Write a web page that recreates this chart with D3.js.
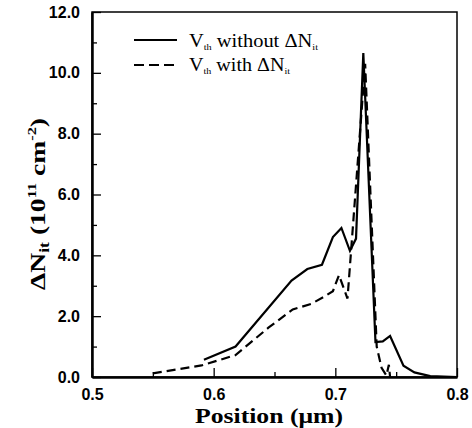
<!DOCTYPE html>
<html>
<head>
<meta charset="utf-8">
<script src="https://cdn.jsdelivr.net/npm/d3@7"></script>
<style>
  body { margin: 0; background: #fff; }
  .serif { font-family: "Liberation Serif", "Times New Roman", serif; fill: #000; }
</style>
</head>
<body>
<div id="chart"></div>
<script>
// Data
var xTicks = [0.5, 0.6, 0.7, 0.8];
var xMinor = [0.55, 0.65, 0.75];
var yTicks = [0, 2, 4, 6, 8, 10, 12];
var yMinor = [1, 3, 5, 7, 9, 11];

// Vth without dNit (solid)
var solidX = [0.592, 0.618, 0.664, 0.677, 0.689, 0.698, 0.705, 0.712, 0.717, 0.723, 0.733, 0.739, 0.745, 0.756, 0.765, 0.778, 0.800];
var solidY = [0.57, 1.00, 3.17, 3.55, 3.69, 4.60, 4.90, 4.15, 4.55, 10.65, 1.15, 1.17, 1.35, 0.37, 0.15, 0.03, 0.00];

// Vth with dNit (dashed)
var dashX = [0.550, 0.590, 0.618, 0.645, 0.665, 0.680, 0.690, 0.698, 0.703, 0.710, 0.7245, 0.734, 0.738, 0.742, 0.744, 0.745];
var dashY = [0.12, 0.38, 0.72, 1.62, 2.22, 2.40, 2.62, 2.82, 3.35, 2.58, 10.30, 1.00, 0.30, 0.05, 0.40, 0.00];

var svgWidth = 472, svgHeight = 428;
var margin = { top: 12, right: 15, bottom: 51, left: 92 };
var chartWidth = svgWidth - margin.left - margin.right;
var chartHeight = svgHeight - margin.top - margin.bottom;

var svg = d3.select("#chart").append("svg")
    .attr("width", svgWidth)
    .attr("height", svgHeight);

var chartGroup = svg.append("g")
    .attr("transform", `translate(${margin.left}, ${margin.top})`);

var x = d3.scaleLinear().domain([0.5, 0.8]).range([0, chartWidth]);
var y = d3.scaleLinear().domain([0, 12]).range([chartHeight, 0]);

// frame (top / right)
chartGroup.append("rect")
    .attr("width", chartWidth).attr("height", chartHeight)
    .attr("fill", "none").attr("stroke", "#000").attr("stroke-width", 1.5);

// minor ticks
chartGroup.append("g")
    .attr("transform", `translate(0, ${chartHeight})`)
    .call(d3.axisBottom(x).tickValues(xMinor).tickSize(-5).tickFormat(""))
    .call(g => g.select(".domain").remove());
chartGroup.append("g")
    .call(d3.axisLeft(y).tickValues(yMinor).tickSize(-5).tickFormat(""))
    .call(g => g.select(".domain").remove());

// major axes
var bottomAxis = d3.axisBottom(x).tickValues(xTicks).tickSizeInner(-9).tickSizeOuter(0)
    .tickPadding(12).tickFormat(d3.format(".1f"));
var leftAxis = d3.axisLeft(y).tickValues(yTicks).tickSizeInner(-9).tickSizeOuter(0)
    .tickPadding(12).tickFormat(d3.format(".1f"));

chartGroup.append("g")
    .attr("transform", `translate(0, ${chartHeight})`)
    .call(bottomAxis)
    .call(g => g.select(".domain").attr("stroke-width", 2.5));
chartGroup.append("g")
    .call(leftAxis)
    .call(g => g.select(".domain").attr("stroke-width", 2.5));

chartGroup.selectAll(".tick line").attr("stroke-width", 1.3);
chartGroup.selectAll(".tick text")
    .attr("font-family", "'Liberation Sans', Arial, sans-serif")
    .attr("font-weight", "bold")
    .attr("font-size", 16)
    .attr("fill", "#000");

// curves
var line = d3.line().x(d => x(d[0])).y(d => y(d[1]));
var solidData = d3.zip(solidX, solidY);
var dashData = d3.zip(dashX, dashY);

chartGroup.append("path")
    .datum(solidData)
    .attr("d", line)
    .attr("fill", "none").attr("stroke", "#000").attr("stroke-width", 2.2)
    .attr("stroke-linejoin", "miter");

chartGroup.append("path")
    .datum(dashData)
    .attr("d", line)
    .attr("fill", "none").attr("stroke", "#000").attr("stroke-width", 2.2)
    .attr("stroke-dasharray", "9,5");

// legend
var legend = svg.append("g");
legend.append("line").attr("x1", 134).attr("x2", 177).attr("y1", 40).attr("y2", 40)
    .attr("stroke", "#000").attr("stroke-width", 2);
legend.append("line").attr("x1", 134).attr("x2", 177).attr("y1", 65).attr("y2", 65)
    .attr("stroke", "#000").attr("stroke-width", 2).attr("stroke-dasharray", "10,5");

function legendText(yPos, word, len) {
  var t = legend.append("text").attr("class", "serif")
      .attr("x", 189).attr("y", yPos).attr("font-size", 18)
      .attr("textLength", len).attr("lengthAdjust", "spacingAndGlyphs");
  t.append("tspan").text("V");
  t.append("tspan").attr("font-size", 9).attr("dy", 3).text("th");
  t.append("tspan").attr("dy", -3).text(" " + word + " \u0394N");
  t.append("tspan").attr("font-size", 9).attr("dy", 3).text("it");
}
legendText(46.5, "without", 129);
legendText(71, "with", 101);

// axis titles
svg.append("text").attr("class", "serif")
    .attr("x", 269).attr("y", 423)
    .attr("text-anchor", "middle")
    .attr("font-size", 20).attr("font-weight", "bold")
    .attr("textLength", 148).attr("lengthAdjust", "spacingAndGlyphs")
    .text("Position (\u03BCm)");

var yt = svg.append("text").attr("class", "serif")
    .attr("transform", "translate(45, 204) rotate(-90)")
    .attr("text-anchor", "middle")
    .attr("font-size", 22).attr("font-weight", "bold")
    .attr("textLength", 172).attr("lengthAdjust", "spacingAndGlyphs");
yt.append("tspan").text("\u0394N");
yt.append("tspan").attr("font-size", 14).attr("dy", 4).text("it");
yt.append("tspan").attr("dy", -4).text(" (10");
yt.append("tspan").attr("font-size", 13).attr("dy", -9).text("11");
yt.append("tspan").attr("dy", 9).text(" cm");
yt.append("tspan").attr("font-size", 13).attr("dy", -9).text("-2");
yt.append("tspan").attr("dy", 9).text(")");
</script>
</body>
</html>
